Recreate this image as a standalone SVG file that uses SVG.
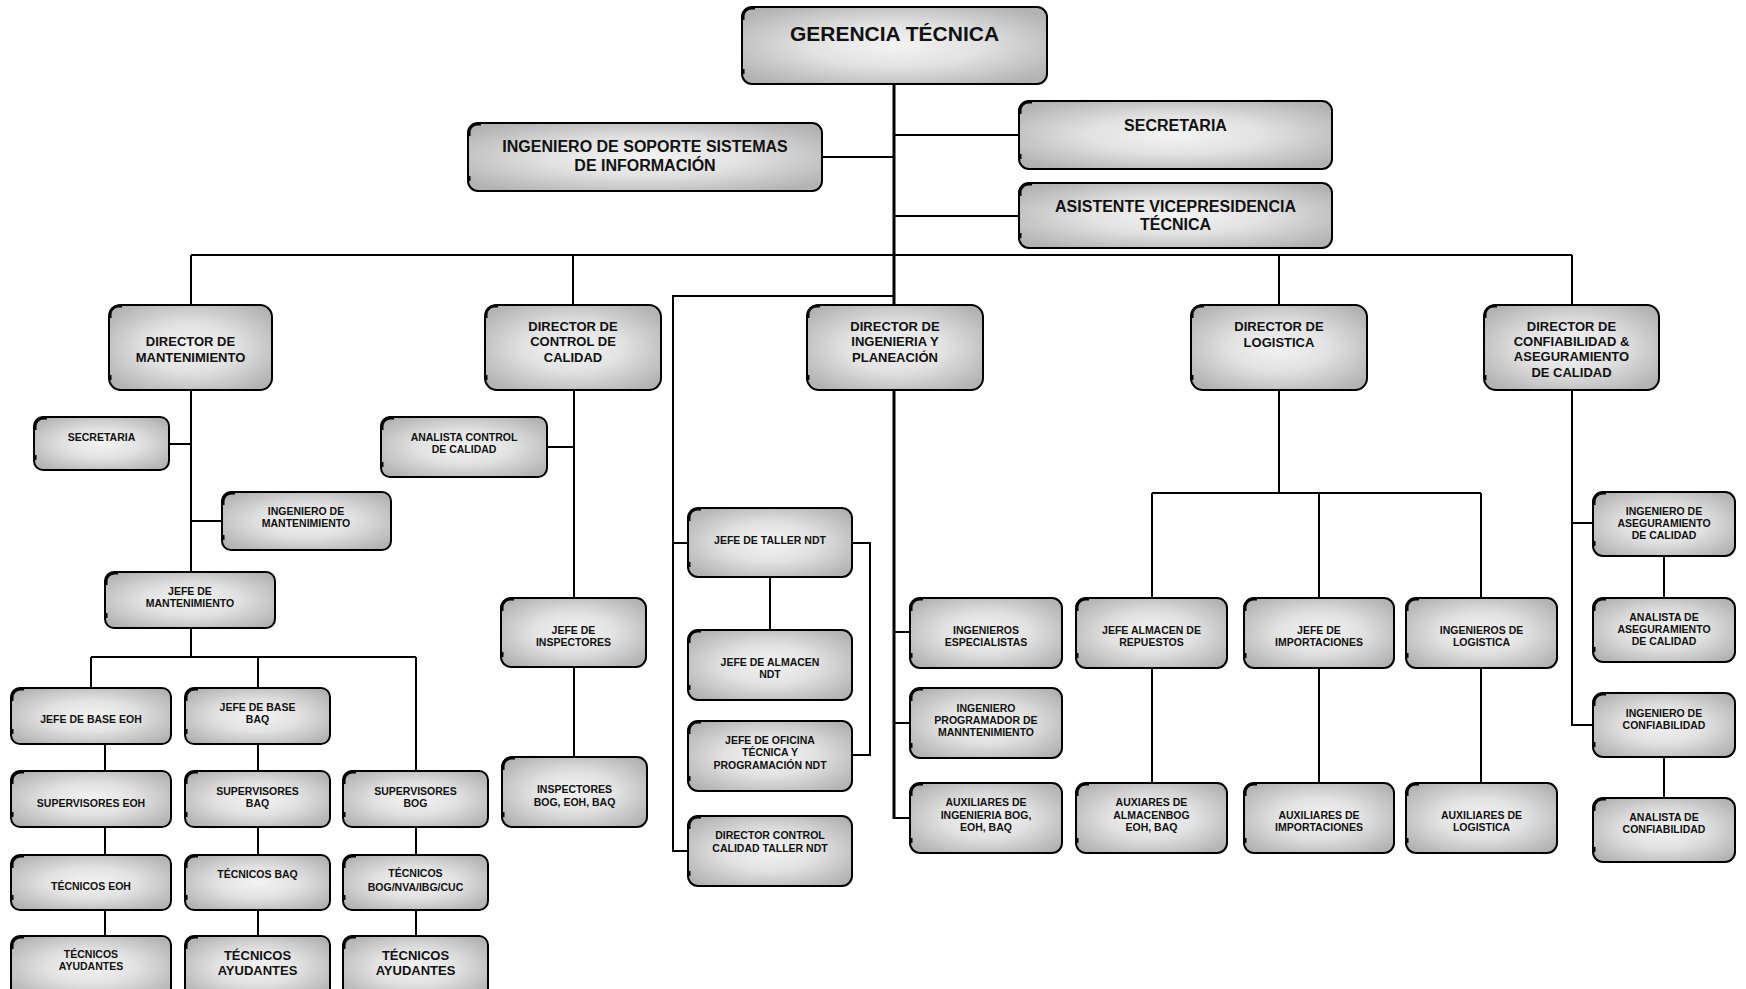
<svg xmlns="http://www.w3.org/2000/svg" xmlns:xlink="http://www.w3.org/1999/xlink" width="1746" height="989" viewBox="0 0 1746 989">
  <defs>
    <radialGradient id="boxFill" cx="50%" cy="50%" r="62%">
      <stop offset="0" stop-color="#f3f3f3"/>
      <stop offset="0.45" stop-color="#e2e2e2"/>
      <stop offset="1" stop-color="#b3b3b3"/>
    </radialGradient>
    <!-- heavier ink on the top-left corner and lower-left edge of every box -->
    <path id="tl" d="M1,13 V9.5 A8.5 8.5 0 0 1 9.5,1 H13" fill="none" stroke="#000" stroke-width="3"/>
    <path id="bl" d="M1,-15 V-10" fill="none" stroke="#000" stroke-width="3"/>
  </defs>
  <style>
    rect.box { fill: url(#boxFill); stroke: #000; stroke-width: 2; }
    text { font-family: "Liberation Sans", Arial, sans-serif; font-weight: bold; text-anchor: middle; fill: #111; }
    .s21 { font-size: 21px; }
    .s16 { font-size: 16px; }
    .s13 { font-size: 13px; }
    .s10 { font-size: 10.5px; }
    .ln { fill: none; stroke: #000; stroke-width: 2; }
    .trunk { fill: none; stroke: #000; stroke-width: 3; }
  </style>
  <rect width="1746" height="989" fill="#fff"/>

  <!-- connectors -->
  <g id="connectors">
    <path class="trunk" d="M894,84 V305 M894,390 V819"/>
    <path class="ln" d="M822,157 H894 M894,135 H1019 M894,216 H1019"/>
    <path class="ln" d="M191,255 H1572 M191,255 V305 M573,255 V305 M1279,255 V305 M1572,255 V305"/>
    <!-- NDT workshop branch -->
    <path class="ln" d="M894,296 H673 V851 H688 M673,543 H688"/>
    <path class="ln" d="M852,543 H870 V755 H852 M770,577 V630"/>
    <!-- maintenance -->
    <path class="ln" d="M191,390 V572 M169,444 H191 M191,521 H222 M191,628 V657 M91,657 H416 M91,657 V688 M258,657 V688 M416,657 V771"/>
    <path class="ln" d="M105,744 V771 M105,827 V855 M105,910 V936 M258,744 V771 M258,827 V855 M258,910 V936 M416,827 V855 M416,910 V936"/>
    <!-- quality control -->
    <path class="ln" d="M574,390 V598 M547,447 H574 M574,667 V757"/>
    <!-- engineering -->
    <path class="ln" d="M894,632 H910 M894,723 H910 M894,818 H910"/>
    <!-- logistics -->
    <path class="ln" d="M1279,390 V493 M1152,493 H1481 M1152,493 V598 M1319,493 V598 M1481,493 V598 M1152,668 V783 M1319,668 V783 M1481,668 V783"/>
    <!-- reliability -->
    <path class="ln" d="M1572,390 V725 H1593 M1572,523 H1593 M1664,556 V598 M1664,757 V798"/>
  </g>

  <g id="gerencia">
    <rect class="box" x="742" y="7" width="305" height="77" rx="10"/>
    <use href="#tl" x="742" y="7"/><use href="#bl" x="742" y="84"/>
    <text class="s21" x="894.5" y="41">GERENCIA TÉCNICA</text>
  </g>
  <g id="ing-soporte">
    <rect class="box" x="468" y="123" width="354" height="68" rx="10"/>
    <use href="#tl" x="468" y="123"/><use href="#bl" x="468" y="191"/>
    <text class="s16"><tspan x="645" y="152.3">INGENIERO DE SOPORTE SISTEMAS</tspan><tspan x="645" y="171.3">DE INFORMACIÓN</tspan></text>
  </g>
  <g id="secretaria">
    <rect class="box" x="1019" y="101" width="313" height="68" rx="10"/>
    <use href="#tl" x="1019" y="101"/><use href="#bl" x="1019" y="169"/>
    <text class="s16" x="1175.5" y="130.8">SECRETARIA</text>
  </g>
  <g id="asistente">
    <rect class="box" x="1019" y="183" width="313" height="65" rx="10"/>
    <use href="#tl" x="1019" y="183"/><use href="#bl" x="1019" y="248"/>
    <text class="s16"><tspan x="1175.5" y="211.8">ASISTENTE VICEPRESIDENCIA</tspan><tspan x="1175.5" y="229.8">TÉCNICA</tspan></text>
  </g>

  <!-- directors -->
  <g id="dir-mantenimiento">
    <rect class="box" x="109" y="305" width="163" height="85" rx="12"/>
    <use href="#tl" x="109" y="305"/><use href="#bl" x="109" y="390"/>
    <text class="s13"><tspan x="190.5" y="346.4">DIRECTOR DE</tspan><tspan x="190.5" y="362">MANTENIMIENTO</tspan></text>
  </g>
  <g id="dir-control-calidad">
    <rect class="box" x="485" y="305" width="176" height="85" rx="12"/>
    <use href="#tl" x="485" y="305"/><use href="#bl" x="485" y="390"/>
    <text class="s13"><tspan x="573" y="330.7">DIRECTOR DE</tspan><tspan x="573" y="346.4">CONTROL DE</tspan><tspan x="573" y="362">CALIDAD</tspan></text>
  </g>
  <g id="dir-ingenieria">
    <rect class="box" x="807" y="305" width="176" height="85" rx="12"/>
    <use href="#tl" x="807" y="305"/><use href="#bl" x="807" y="390"/>
    <text class="s13"><tspan x="895" y="330.7">DIRECTOR DE</tspan><tspan x="895" y="346.4">INGENIERIA Y</tspan><tspan x="895" y="362">PLANEACIÓN</tspan></text>
  </g>
  <g id="dir-logistica">
    <rect class="box" x="1191" y="305" width="176" height="85" rx="12"/>
    <use href="#tl" x="1191" y="305"/><use href="#bl" x="1191" y="390"/>
    <text class="s13"><tspan x="1279" y="330.7">DIRECTOR DE</tspan><tspan x="1279" y="346.7">LOGISTICA</tspan></text>
  </g>
  <g id="dir-confiabilidad">
    <rect class="box" x="1484" y="305" width="175" height="85" rx="12"/>
    <use href="#tl" x="1484" y="305"/><use href="#bl" x="1484" y="390"/>
    <text class="s13"><tspan x="1571.5" y="330.7">DIRECTOR DE</tspan><tspan x="1571.5" y="346.4">CONFIABILIDAD &amp;</tspan><tspan x="1571.5" y="361.4">ASEGURAMIENTO</tspan><tspan x="1571.5" y="376.7">DE CALIDAD</tspan></text>
  </g>

  <!-- maintenance -->
  <g id="secretaria-mant">
    <rect class="box" x="34" y="417" width="135" height="53" rx="9"/>
    <use href="#tl" x="34" y="417"/><use href="#bl" x="34" y="470"/>
    <text class="s10" x="101.5" y="440.5">SECRETARIA</text>
  </g>
  <g id="ing-mantenimiento">
    <rect class="box" x="222" y="492" width="169" height="58" rx="9"/>
    <use href="#tl" x="222" y="492"/><use href="#bl" x="222" y="550"/>
    <text class="s10"><tspan x="306" y="514.5">INGENIERO DE</tspan><tspan x="306" y="527.1">MANTENIMIENTO</tspan></text>
  </g>
  <g id="jefe-mantenimiento">
    <rect class="box" x="105" y="572" width="170" height="56" rx="9"/>
    <use href="#tl" x="105" y="572"/><use href="#bl" x="105" y="628"/>
    <text class="s10"><tspan x="190" y="594.8">JEFE DE</tspan><tspan x="190" y="607.1">MANTENIMIENTO</tspan></text>
  </g>
  <g id="jefe-base-eoh">
    <rect class="box" x="11" y="688" width="160" height="56" rx="9"/>
    <use href="#tl" x="11" y="688"/><use href="#bl" x="11" y="744"/>
    <text class="s10" x="91" y="723.1">JEFE DE BASE EOH</text>
  </g>
  <g id="jefe-base-baq">
    <rect class="box" x="185" y="688" width="145" height="56" rx="9"/>
    <use href="#tl" x="185" y="688"/><use href="#bl" x="185" y="744"/>
    <text class="s10"><tspan x="257.5" y="711.1">JEFE DE BASE</tspan><tspan x="257.5" y="723.1">BAQ</tspan></text>
  </g>
  <g id="supervisores-eoh">
    <rect class="box" x="11" y="771" width="160" height="56" rx="9"/>
    <use href="#tl" x="11" y="771"/><use href="#bl" x="11" y="827"/>
    <text class="s10" x="91" y="806.5">SUPERVISORES EOH</text>
  </g>
  <g id="supervisores-baq">
    <rect class="box" x="185" y="771" width="145" height="56" rx="9"/>
    <use href="#tl" x="185" y="771"/><use href="#bl" x="185" y="827"/>
    <text class="s10"><tspan x="257.5" y="794.5">SUPERVISORES</tspan><tspan x="257.5" y="806.5">BAQ</tspan></text>
  </g>
  <g id="supervisores-bog">
    <rect class="box" x="343" y="771" width="145" height="56" rx="9"/>
    <use href="#tl" x="343" y="771"/><use href="#bl" x="343" y="827"/>
    <text class="s10"><tspan x="415.5" y="794.5">SUPERVISORES</tspan><tspan x="415.5" y="806.5">BOG</tspan></text>
  </g>
  <g id="tecnicos-eoh">
    <rect class="box" x="11" y="855" width="160" height="55" rx="9"/>
    <use href="#tl" x="11" y="855"/><use href="#bl" x="11" y="910"/>
    <text class="s10" x="91" y="889.8">TÉCNICOS EOH</text>
  </g>
  <g id="tecnicos-baq">
    <rect class="box" x="185" y="855" width="145" height="55" rx="9"/>
    <use href="#tl" x="185" y="855"/><use href="#bl" x="185" y="910"/>
    <text class="s10" x="257.5" y="878.1">TÉCNICOS BAQ</text>
  </g>
  <g id="tecnicos-bog">
    <rect class="box" x="343" y="855" width="145" height="55" rx="9"/>
    <use href="#tl" x="343" y="855"/><use href="#bl" x="343" y="910"/>
    <text class="s10"><tspan x="415.5" y="877.1">TÉCNICOS</tspan><tspan x="415.5" y="890.5">BOG/NVA/IBG/CUC</tspan></text>
  </g>
  <g id="ayudantes-eoh">
    <rect class="box" x="11" y="936" width="160" height="62" rx="9"/>
    <use href="#tl" x="11" y="936"/>
    <text class="s10"><tspan x="91" y="957.8">TÉCNICOS</tspan><tspan x="91" y="969.8">AYUDANTES</tspan></text>
  </g>
  <g id="ayudantes-baq">
    <rect class="box" x="185" y="936" width="145" height="62" rx="9"/>
    <use href="#tl" x="185" y="936"/>
    <text class="s13"><tspan x="257.5" y="959.7">TÉCNICOS</tspan><tspan x="257.5" y="974.7">AYUDANTES</tspan></text>
  </g>
  <g id="ayudantes-bog">
    <rect class="box" x="343" y="936" width="145" height="62" rx="9"/>
    <use href="#tl" x="343" y="936"/>
    <text class="s13"><tspan x="415.5" y="959.7">TÉCNICOS</tspan><tspan x="415.5" y="974.7">AYUDANTES</tspan></text>
  </g>

  <!-- quality control -->
  <g id="analista-control-calidad">
    <rect class="box" x="381" y="417" width="166" height="60" rx="9"/>
    <use href="#tl" x="381" y="417"/><use href="#bl" x="381" y="477"/>
    <text class="s10"><tspan x="464" y="440.5">ANALISTA CONTROL</tspan><tspan x="464" y="453.1">DE CALIDAD</tspan></text>
  </g>
  <g id="jefe-inspectores">
    <rect class="box" x="501" y="598" width="145" height="69" rx="10"/>
    <use href="#tl" x="501" y="598"/><use href="#bl" x="501" y="667"/>
    <text class="s10"><tspan x="573.5" y="633.8">JEFE DE</tspan><tspan x="573.5" y="646.1">INSPECTORES</tspan></text>
  </g>
  <g id="inspectores">
    <rect class="box" x="502" y="757" width="145" height="70" rx="10"/>
    <use href="#tl" x="502" y="757"/><use href="#bl" x="502" y="827"/>
    <text class="s10"><tspan x="574.5" y="793.1">INSPECTORES</tspan><tspan x="574.5" y="805.5">BOG, EOH, BAQ</tspan></text>
  </g>

  <!-- NDT workshop -->
  <g id="jefe-taller-ndt">
    <rect class="box" x="688" y="508" width="164" height="69" rx="10"/>
    <use href="#tl" x="688" y="508"/><use href="#bl" x="688" y="577"/>
    <text class="s10" x="770" y="543.8">JEFE DE TALLER NDT</text>
  </g>
  <g id="jefe-almacen-ndt">
    <rect class="box" x="688" y="630" width="164" height="70" rx="10"/>
    <use href="#tl" x="688" y="630"/><use href="#bl" x="688" y="700"/>
    <text class="s10"><tspan x="770" y="666.1">JEFE DE ALMACEN</tspan><tspan x="770" y="678.1">NDT</tspan></text>
  </g>
  <g id="jefe-oficina-ndt">
    <rect class="box" x="688" y="721" width="164" height="70" rx="10"/>
    <use href="#tl" x="688" y="721"/><use href="#bl" x="688" y="791"/>
    <text class="s10"><tspan x="770" y="743.8">JEFE DE OFICINA</tspan><tspan x="770" y="756.1">TÉCNICA Y</tspan><tspan x="770" y="768.8">PROGRAMACIÓN NDT</tspan></text>
  </g>
  <g id="dir-control-calidad-ndt">
    <rect class="box" x="688" y="816" width="164" height="70" rx="10"/>
    <use href="#tl" x="688" y="816"/><use href="#bl" x="688" y="886"/>
    <text class="s10"><tspan x="770" y="839.1">DIRECTOR CONTROL</tspan><tspan x="770" y="851.8">CALIDAD TALLER NDT</tspan></text>
  </g>

  <!-- engineering -->
  <g id="ing-especialistas">
    <rect class="box" x="910" y="598" width="152" height="70" rx="10"/>
    <use href="#tl" x="910" y="598"/><use href="#bl" x="910" y="668"/>
    <text class="s10"><tspan x="986" y="633.8">INGENIEROS</tspan><tspan x="986" y="646.1">ESPECIALISTAS</tspan></text>
  </g>
  <g id="ing-programador">
    <rect class="box" x="910" y="688" width="152" height="70" rx="10"/>
    <use href="#tl" x="910" y="688"/><use href="#bl" x="910" y="758"/>
    <text class="s10"><tspan x="986" y="712.1">INGENIERO</tspan><tspan x="986" y="724.1">PROGRAMADOR DE</tspan><tspan x="986" y="736.1">MANNTENIMIENTO</tspan></text>
  </g>
  <g id="aux-ingenieria">
    <rect class="box" x="910" y="783" width="152" height="70" rx="10"/>
    <use href="#tl" x="910" y="783"/><use href="#bl" x="910" y="853"/>
    <text class="s10"><tspan x="986" y="806.1">AUXILIARES DE</tspan><tspan x="986" y="818.8">INGENIERIA BOG,</tspan><tspan x="986" y="831.1">EOH, BAQ</tspan></text>
  </g>

  <!-- logistics -->
  <g id="jefe-almacen-repuestos">
    <rect class="box" x="1076" y="598" width="151" height="70" rx="10"/>
    <use href="#tl" x="1076" y="598"/><use href="#bl" x="1076" y="668"/>
    <text class="s10"><tspan x="1151.5" y="633.8">JEFE ALMACEN DE</tspan><tspan x="1151.5" y="646.1">REPUESTOS</tspan></text>
  </g>
  <g id="jefe-importaciones">
    <rect class="box" x="1244" y="598" width="150" height="70" rx="10"/>
    <use href="#tl" x="1244" y="598"/><use href="#bl" x="1244" y="668"/>
    <text class="s10"><tspan x="1319" y="633.8">JEFE DE</tspan><tspan x="1319" y="646.1">IMPORTACIONES</tspan></text>
  </g>
  <g id="ing-logistica">
    <rect class="box" x="1406" y="598" width="151" height="70" rx="10"/>
    <use href="#tl" x="1406" y="598"/><use href="#bl" x="1406" y="668"/>
    <text class="s10"><tspan x="1481.5" y="633.8">INGENIEROS DE</tspan><tspan x="1481.5" y="646.1">LOGISTICA</tspan></text>
  </g>
  <g id="aux-almacen">
    <rect class="box" x="1076" y="783" width="151" height="70" rx="10"/>
    <use href="#tl" x="1076" y="783"/><use href="#bl" x="1076" y="853"/>
    <text class="s10"><tspan x="1151.5" y="806.1">AUXIARES DE</tspan><tspan x="1151.5" y="818.8">ALMACENBOG</tspan><tspan x="1151.5" y="831.1">EOH, BAQ</tspan></text>
  </g>
  <g id="aux-importaciones">
    <rect class="box" x="1244" y="783" width="150" height="70" rx="10"/>
    <use href="#tl" x="1244" y="783"/><use href="#bl" x="1244" y="853"/>
    <text class="s10"><tspan x="1319" y="818.8">AUXILIARES DE</tspan><tspan x="1319" y="831.1">IMPORTACIONES</tspan></text>
  </g>
  <g id="aux-logistica">
    <rect class="box" x="1406" y="783" width="151" height="70" rx="10"/>
    <use href="#tl" x="1406" y="783"/><use href="#bl" x="1406" y="853"/>
    <text class="s10"><tspan x="1481.5" y="818.8">AUXILIARES DE</tspan><tspan x="1481.5" y="831.1">LOGISTICA</tspan></text>
  </g>

  <!-- reliability and quality assurance -->
  <g id="ing-aseguramiento">
    <rect class="box" x="1593" y="492" width="142" height="64" rx="10"/>
    <use href="#tl" x="1593" y="492"/><use href="#bl" x="1593" y="556"/>
    <text class="s10"><tspan x="1664" y="514.8">INGENIERO DE</tspan><tspan x="1664" y="526.5">ASEGURAMIENTO</tspan><tspan x="1664" y="538.8">DE CALIDAD</tspan></text>
  </g>
  <g id="analista-aseguramiento">
    <rect class="box" x="1593" y="598" width="142" height="64" rx="10"/>
    <use href="#tl" x="1593" y="598"/><use href="#bl" x="1593" y="662"/>
    <text class="s10"><tspan x="1664" y="620.5">ANALISTA DE</tspan><tspan x="1664" y="632.8">ASEGURAMIENTO</tspan><tspan x="1664" y="644.8">DE CALIDAD</tspan></text>
  </g>
  <g id="ing-confiabilidad">
    <rect class="box" x="1593" y="693" width="142" height="64" rx="10"/>
    <use href="#tl" x="1593" y="693"/><use href="#bl" x="1593" y="757"/>
    <text class="s10"><tspan x="1664" y="716.5">INGENIERO DE</tspan><tspan x="1664" y="728.8">CONFIABILIDAD</tspan></text>
  </g>
  <g id="analista-confiabilidad">
    <rect class="box" x="1593" y="798" width="142" height="64" rx="10"/>
    <use href="#tl" x="1593" y="798"/><use href="#bl" x="1593" y="862"/>
    <text class="s10"><tspan x="1664" y="821.1">ANALISTA DE</tspan><tspan x="1664" y="833.1">CONFIABILIDAD</tspan></text>
  </g>
</svg>
